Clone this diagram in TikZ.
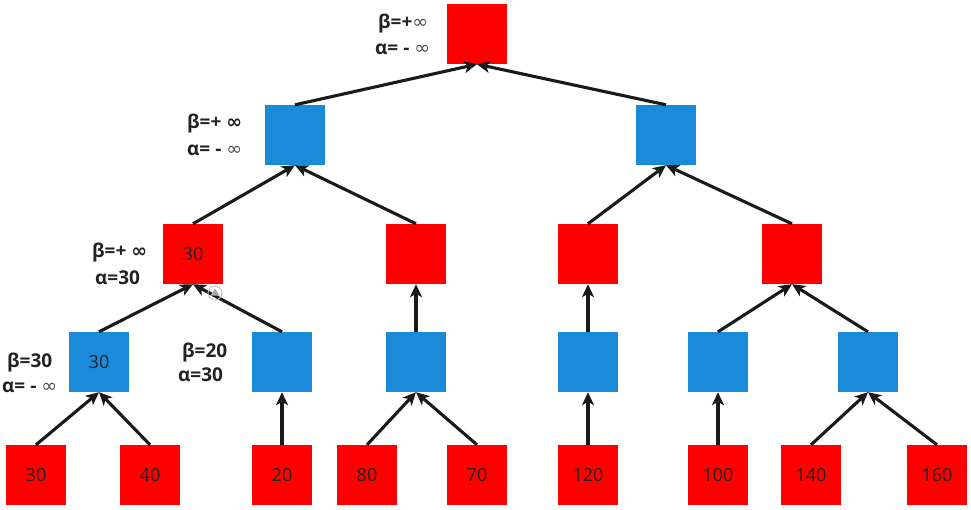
\documentclass[tikz,border=0pt]{standalone}
\usepackage{fontspec}
\setmainfont{Open Sans}
\newfontfamily\symfont{DejaVu Sans}
\usetikzlibrary{arrows.meta,calc}
\definecolor{nodered}{RGB}{255,0,0}
\definecolor{nodeblue}{RGB}{26,139,217}
\definecolor{linecol}{RGB}{26,26,26}
\definecolor{txtcol}{RGB}{34,34,34}
\newcommand{\thininf}{{\symfont\fontseries{m}\selectfont\textcolor{black!70}{∞}}}
\newcommand{\boldinf}{{\symfont\bfseries ∞}}
\tikzset{
  redbox/.style={fill=nodered,minimum size=60pt,inner sep=0pt,text=txtcol,font=\fontsize{18}{21}\selectfont},
  bluebox/.style={fill=nodeblue,minimum size=60pt,inner sep=0pt,text=txtcol,font=\fontsize{18}{21}\selectfont},
  lbl/.style={anchor=base west,inner sep=0pt,text=txtcol,font=\fontsize{19}{22}\selectfont\bfseries},
  edge/.style={draw=linecol,line width=3.1pt,-{Stealth[length=13pt,width=12pt,inset=3.5pt]}}
}
\begin{document}
\begin{tikzpicture}[x=1pt,y=-1pt]
\useasboundingbox (0,0) rectangle (971,509);
% level 0
\node[redbox] (r) at (477,34) {};
% level 1
\node[bluebox] (a) at (295,135) {};
\node[bluebox] (b) at (666,135) {};
% level 2
\node[redbox] (aa) at (193,254) {30};
\node[redbox] (ab) at (416,254) {};
\node[redbox] (ba) at (588,254) {};
\node[redbox] (bb) at (792,254) {};
% level 3
\node[bluebox] (aaa) at (99,362) {30};
\node[bluebox] (aab) at (282,362) {};
\node[bluebox] (aba) at (416,362) {};
\node[bluebox] (baa) at (588,362) {};
\node[bluebox] (bba) at (718,362) {};
\node[bluebox] (bbb) at (868,362) {};
% leaves
\node[redbox] (l1) at (36,475) {30};
\node[redbox] (l2) at (150,475) {40};
\node[redbox] (l3) at (282,475) {20};
\node[redbox] (l4) at (367,475) {80};
\node[redbox] (l5) at (477,475) {70};
\node[redbox] (l6) at (588,475) {120};
\node[redbox] (l7) at (718,475) {100};
\node[redbox] (l8) at (811,475) {140};
\node[redbox] (l9) at (937,475) {160};
% connectors
\draw[edge] (a.north) -- (r.south);
\draw[edge] (b.north) -- (r.south);
\draw[edge] (aa.north) -- (a.south);
\draw[edge] (ab.north) -- (a.south);
\draw[edge] (ba.north) -- (b.south);
\draw[edge] (bb.north) -- (b.south);
\draw[edge] (aaa.north) -- (aa.south);
\draw[edge] (aab.north) -- (aa.south);
\draw[edge] (aba.north) -- (ab.south);
\draw[edge] (baa.north) -- (ba.south);
\draw[edge] (bba.north) -- (bb.south);
\draw[edge] (bbb.north) -- (bb.south);
\draw[edge] (l1.north) -- (aaa.south);
\draw[edge] (l2.north) -- (aaa.south);
\draw[edge] (l3.north) -- (aab.south);
\draw[edge] (l4.north) -- (aba.south);
\draw[edge] (l5.north) -- (aba.south);
\draw[edge] (l6.north) -- (baa.south);
\draw[edge] (l7.north) -- (bba.south);
\draw[edge] (l8.north) -- (bbb.south);
\draw[edge] (l9.north) -- (bbb.south);
% labels
\node[lbl] (rb) at (378,28) {β=+\thininf};
\node[lbl] (ra) at (375,54) {α= - \thininf};
\node[lbl] (ab1) at (187,128) {β=+ \boldinf};
\node[lbl] (aa1) at (187,155) {α= - \thininf};
\node[lbl] (ab2) at (92,257) {β=+ \boldinf};
\node[lbl] (aa2) at (95,284) {α=30};
\node[lbl] (ab3) at (7,367) {β=30};
\node[lbl] (aa3) at (2,392) {α= - \thininf};
\node[lbl] (ab4) at (182,357) {β=20};
\node[lbl] (aa4) at (178,381) {α=30};
% small grey handle icon
\node[circle,draw=black!25,line width=0.9pt,minimum size=14pt,inner sep=0pt] (ic) at (215,293) {};
\fill[black!35] ($(ic.center)+(0,-4.5)$) -- ++(4.5,7) -- ++(-9,0) -- cycle;
\end{tikzpicture}
\end{document}
